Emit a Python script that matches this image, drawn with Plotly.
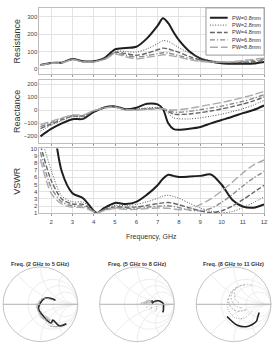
import plotly.graph_objects as go

# ---------------- data ----------------
FREQ = [1.5, 2, 2.5, 3, 3.5, 4, 4.15, 4.5, 5, 5.5, 6, 6.5, 7, 7.25, 7.5, 7.75,
        8, 8.5, 9, 9.5, 10, 10.5, 11, 11.5, 12]

SERIES = ["PW=0.8mm", "PW=2.8mm", "PW=4.8mm", "PW=6.8mm", "PW=8.8mm"]

RES_08 = [22, 34, 36, 57, 44, 44, 47, 62, 112, 120, 127, 175, 248, 290, 262, 210,
          165, 100, 60, 42, 33, 30, 29, 31, 40]
RES_28 = [22, 34, 35, 56, 43, 43, 46, 60, 100, 100, 96, 115, 145, 162, 158, 140,
          122, 90, 62, 48, 40, 36, 35, 37, 42]
RES_48 = [22, 34, 35, 55, 42, 42, 45, 58, 95, 88, 78, 90, 110, 119, 115, 105,
          95, 70, 52, 42, 37, 36, 38, 42, 48]
RES_68 = [21, 33, 35, 54, 41, 41, 44, 56, 90, 78, 68, 76, 88, 93, 91, 84,
          77, 60, 47, 40, 38, 39, 43, 48, 55]
RES_88 = [20, 33, 34, 53, 40, 40, 43, 54, 85, 70, 58, 66, 76, 81, 79, 73,
          67, 53, 43, 39, 39, 42, 48, 55, 62]

REA_08 = [-200, -143, -100, -68, -66, -12, -2, 22, 30, 8, 20, 50, 45, 10, -100, -145,
          -150, -142, -128, -100, -75, -50, -22, 2, 37]
REA_28 = [-160, -115, -80, -50, -50, -8, 0, 20, 27, 8, 10, 18, 22, 15, -25, -58,
          -65, -66, -58, -45, -30, -10, 12, 40, 77]
REA_48 = [-140, -105, -72, -45, -45, -6, 2, 20, 25, 6, 6, 12, 16, 13, -10, -30,
          -32, -28, -18, -5, 10, 28, 48, 72, 102]
REA_68 = [-125, -95, -65, -40, -40, -4, 3, 19, 24, 5, 4, 9, 13, 12, -2, -14,
          -15, -8, 5, 18, 32, 50, 68, 92, 120]
REA_88 = [-110, -85, -58, -36, -36, -2, 4, 18, 23, 4, 2, 7, 11, 11, 5, 2,
          5, 15, 30, 45, 60, 78, 98, 120, 145]

VSWR_08 = [30, 16, 6.8, 3.8, 3.1, 1.35, 1.05, 1.75, 2.45, 2.3, 2.6, 3.6, 4.9, 5.8, 6.35, 6.2,
           6.05, 6.1, 6.2, 6.4, 5.0, 2.9, 1.95, 1.78, 2.25]
VSWR_28 = [12, 7.0, 3.4, 2.6, 2.55, 1.35, 1.08, 1.65, 2.1, 2.1, 2.25, 2.6, 3.1, 3.4, 3.5, 3.35,
           3.1, 2.4, 1.75, 1.3, 1.08, 1.25, 1.8, 2.5, 3.3]
VSWR_48 = [10.5, 5.6, 3.0, 2.3, 2.25, 1.3, 1.08, 1.55, 1.9, 1.85, 1.9, 2.1, 2.35, 2.45, 2.5, 2.4,
           2.2, 1.75, 1.35, 1.1, 1.35, 2.0, 2.9, 3.9, 4.9]
VSWR_68 = [9.5, 4.6, 2.6, 2.05, 2.0, 1.25, 1.08, 1.45, 1.75, 1.7, 1.7, 1.85, 2.0, 2.05, 2.05, 1.95,
           1.8, 1.45, 1.35, 1.7, 2.5, 3.6, 4.8, 5.9, 6.8]
VSWR_88 = [8.5, 3.8, 2.3, 1.85, 1.8, 1.2, 1.08, 1.4, 1.65, 1.55, 1.55, 1.65, 1.75, 1.75, 1.7, 1.6,
           1.5, 1.6, 2.2, 3.0, 4.1, 5.3, 6.6, 7.7, 8.4]

RESISTANCE = [RES_08, RES_28, RES_48, RES_68, RES_88]
REACTANCE = [REA_08, REA_28, REA_48, REA_68, REA_88]
VSWR = [VSWR_08, VSWR_28, VSWR_48, VSWR_68, VSWR_88]

Z0 = 50.0
SMITH_BANDS = [(2, 5), (5, 8), (8, 11)]
SMITH_TITLES = ["Freq. (2 GHz to 5 GHz)", "Freq. (5 GHz to 8 GHz)", "Freq. (8 GHz to 11 GHz)"]

# ---------------- styles ----------------
STYLES = [
    dict(color="#1e1e1e", width=2.0, dash="solid"),
    dict(color="#555555", width=1.0, dash="1px,1.6px"),
    dict(color="#666666", width=1.4, dash="5px,2px"),
    dict(color="#8a8a8a", width=1.4, dash="5px,2px,1.2px,2px"),
    dict(color="#aaaaaa", width=1.4, dash="8px,3px"),
]
SMITH_STYLES = [
    dict(color="#222222", width=1.6, dash="solid"),
    dict(color="#777777", width=0.7, dash="1px,1.5px"),
    dict(color="#888888", width=0.7, dash="2px,1.5px"),
    dict(color="#999999", width=0.7, dash="2px,1.5px"),
    dict(color="#aaaaaa", width=0.7, dash="2px,1.5px"),
]

W, H = 276, 353
FONT = "Liberation Sans, Arial"


def px_y(top, bottom):
    return [1 - bottom / H, 1 - top / H]


fig = go.Figure()

for i, name in enumerate(SERIES):
    st = STYLES[i]
    line = dict(color=st["color"], width=st["width"], dash=st["dash"], shape="spline", smoothing=0.8)
    fig.add_trace(go.Scatter(x=FREQ, y=RESISTANCE[i], name=name, mode="lines", line=line,
                             legendgroup=name, showlegend=False, xaxis="x", yaxis="y"))
    fig.add_trace(go.Scatter(x=FREQ, y=REACTANCE[i], name=name, mode="lines", line=line,
                             legendgroup=name, showlegend=False, xaxis="x2", yaxis="y2"))
    fig.add_trace(go.Scatter(x=FREQ, y=VSWR[i], name=name, mode="lines", line=line,
                             legendgroup=name, showlegend=False, xaxis="x3", yaxis="y3"))

# Smith charts, drawn from normalized impedance
for b, (f0, f1) in enumerate(SMITH_BANDS):
    sub = "smith" if b == 0 else f"smith{b + 1}"
    for i, name in enumerate(SERIES):
        idx = [k for k, f in enumerate(FREQ) if f0 <= f <= f1]
        re = [RESISTANCE[i][k] / Z0 for k in idx]
        im = [REACTANCE[i][k] / Z0 for k in idx]
        sst = SMITH_STYLES[i]
        fig.add_trace(go.Scattersmith(real=re, imag=im, mode="lines", subplot=sub,
                                      line=dict(color=sst["color"], width=sst["width"],
                                                dash=sst["dash"], shape="spline"),
                                      showlegend=False, name=name))

GRID = "#e3e3e3"
BOX = "#bdbdbd"
TICKFONT = dict(family=FONT, size=6, color="#444444")
XDOM = [40 / W, 268 / W]
XRANGE = [1.45, 12]

xcommon = dict(range=XRANGE, domain=XDOM, tickmode="array", tickvals=list(range(2, 13)),
               showgrid=True, gridcolor=GRID, gridwidth=1, showline=True, linecolor=BOX,
               mirror=True, ticks="outside", ticklen=2, tickcolor="#999999",
               tickfont=TICKFONT, zeroline=False)
ycommon = dict(showgrid=True, gridcolor=GRID, showline=True, linecolor=BOX, mirror=True,
               ticks="", tickfont=TICKFONT, zeroline=False)

smith_axes = dict(
    realaxis=dict(showticklabels=False, ticks="", gridcolor="#ededed", linecolor="#b0b0b0",
                  linewidth=1, tickvals=[0.5, 1, 2]),
    imaginaryaxis=dict(showticklabels=False, ticks="", gridcolor="#ededed", linecolor="#c4c4c4",
                       linewidth=1, tickvals=[-2, -1, -0.5, 0.5, 1, 2]),
    bgcolor="white",
)
SMITH_CX = [41, 139, 237]
SMITH_R = 38
SMITH_CY = 306.5

layout_smith = {}
for b, cx in enumerate(SMITH_CX):
    key = "smith" if b == 0 else f"smith{b + 1}"
    layout_smith[key] = dict(
        domain=dict(x=[(cx - SMITH_R) / W, (cx + SMITH_R) / W],
                    y=px_y(SMITH_CY - SMITH_R, SMITH_CY + SMITH_R)),
        **smith_axes)

annotations = [
    dict(text="Resistance", x=17 / W, y=1 - 38.5 / H, textangle=-90),
    dict(text="Reactance", x=17 / W, y=1 - 110 / H, textangle=-90),
    dict(text="VSWR", x=17 / W, y=1 - 181 / H, textangle=-90),
]
annotations = [dict(a, xref="paper", yref="paper", showarrow=False, xanchor="center", yanchor="middle",
                    font=dict(family=FONT, size=9, color="#333333"))
               for a in annotations]
annotations.append(dict(text="Frequency, GHz", x=154 / W, y=1 - 238 / H, xref="paper", yref="paper",
                        showarrow=False, xanchor="center", yanchor="middle",
                        font=dict(family=FONT, size=7, color="#333333")))
for b, cx in enumerate(SMITH_CX):
    annotations.append(dict(text="<b>" + SMITH_TITLES[b] + "</b>", x=cx / W, y=1 - 266 / H,
                            xref="paper", yref="paper", showarrow=False, xanchor="center",
                            yanchor="middle",
                            font=dict(family=FONT, size=5.5, color="#333333")))

# compact legend box (plotly's own legend rows are too tall at this size)
shapes = [dict(type="rect", xref="paper", yref="paper", x0=209 / W, x1=268 / W,
               y0=1 - 53 / H, y1=1 - 5 / H, fillcolor="white", line=dict(color="#999999", width=1),
               layer="above")]
LEG_Y = [15, 22.5, 30, 37.5, 45]
for i, name in enumerate(SERIES):
    st = STYLES[i]
    yy = 1 - LEG_Y[i] / H
    shapes.append(dict(type="line", xref="paper", yref="paper", x0=213 / W, x1=231 / W, y0=yy, y1=yy,
                       line=dict(color=st["color"], width=st["width"], dash=st["dash"]), layer="above"))
    annotations.append(dict(text=name, x=233 / W, y=yy, xref="paper", yref="paper", showarrow=False,
                            xanchor="left", yanchor="middle",
                            font=dict(family=FONT, size=5.5, color="#333333")))

fig.update_layout(
    width=W, height=H, margin=dict(l=0, r=0, t=0, b=0),
    paper_bgcolor="white", plot_bgcolor="white",
    xaxis=dict(xcommon, anchor="y", showticklabels=False),
    xaxis2=dict(xcommon, anchor="y2", showticklabels=False, matches="x"),
    xaxis3=dict(xcommon, anchor="y3", showticklabels=True, matches="x"),
    yaxis=dict(ycommon, domain=px_y(5, 72), range=[-28, 350], tickvals=[0, 100, 200, 300], anchor="x"),
    yaxis2=dict(ycommon, domain=px_y(78, 142.3), range=[-250, 235],
                tickvals=[-200, -100, 0, 100, 200], anchor="x2"),
    yaxis3=dict(ycommon, domain=px_y(148, 214), range=[1, 10], tickvals=list(range(1, 11)), anchor="x3"),
    annotations=annotations,
    shapes=shapes,
    showlegend=False,
    **layout_smith,
)

fig.write_html("out.html")
